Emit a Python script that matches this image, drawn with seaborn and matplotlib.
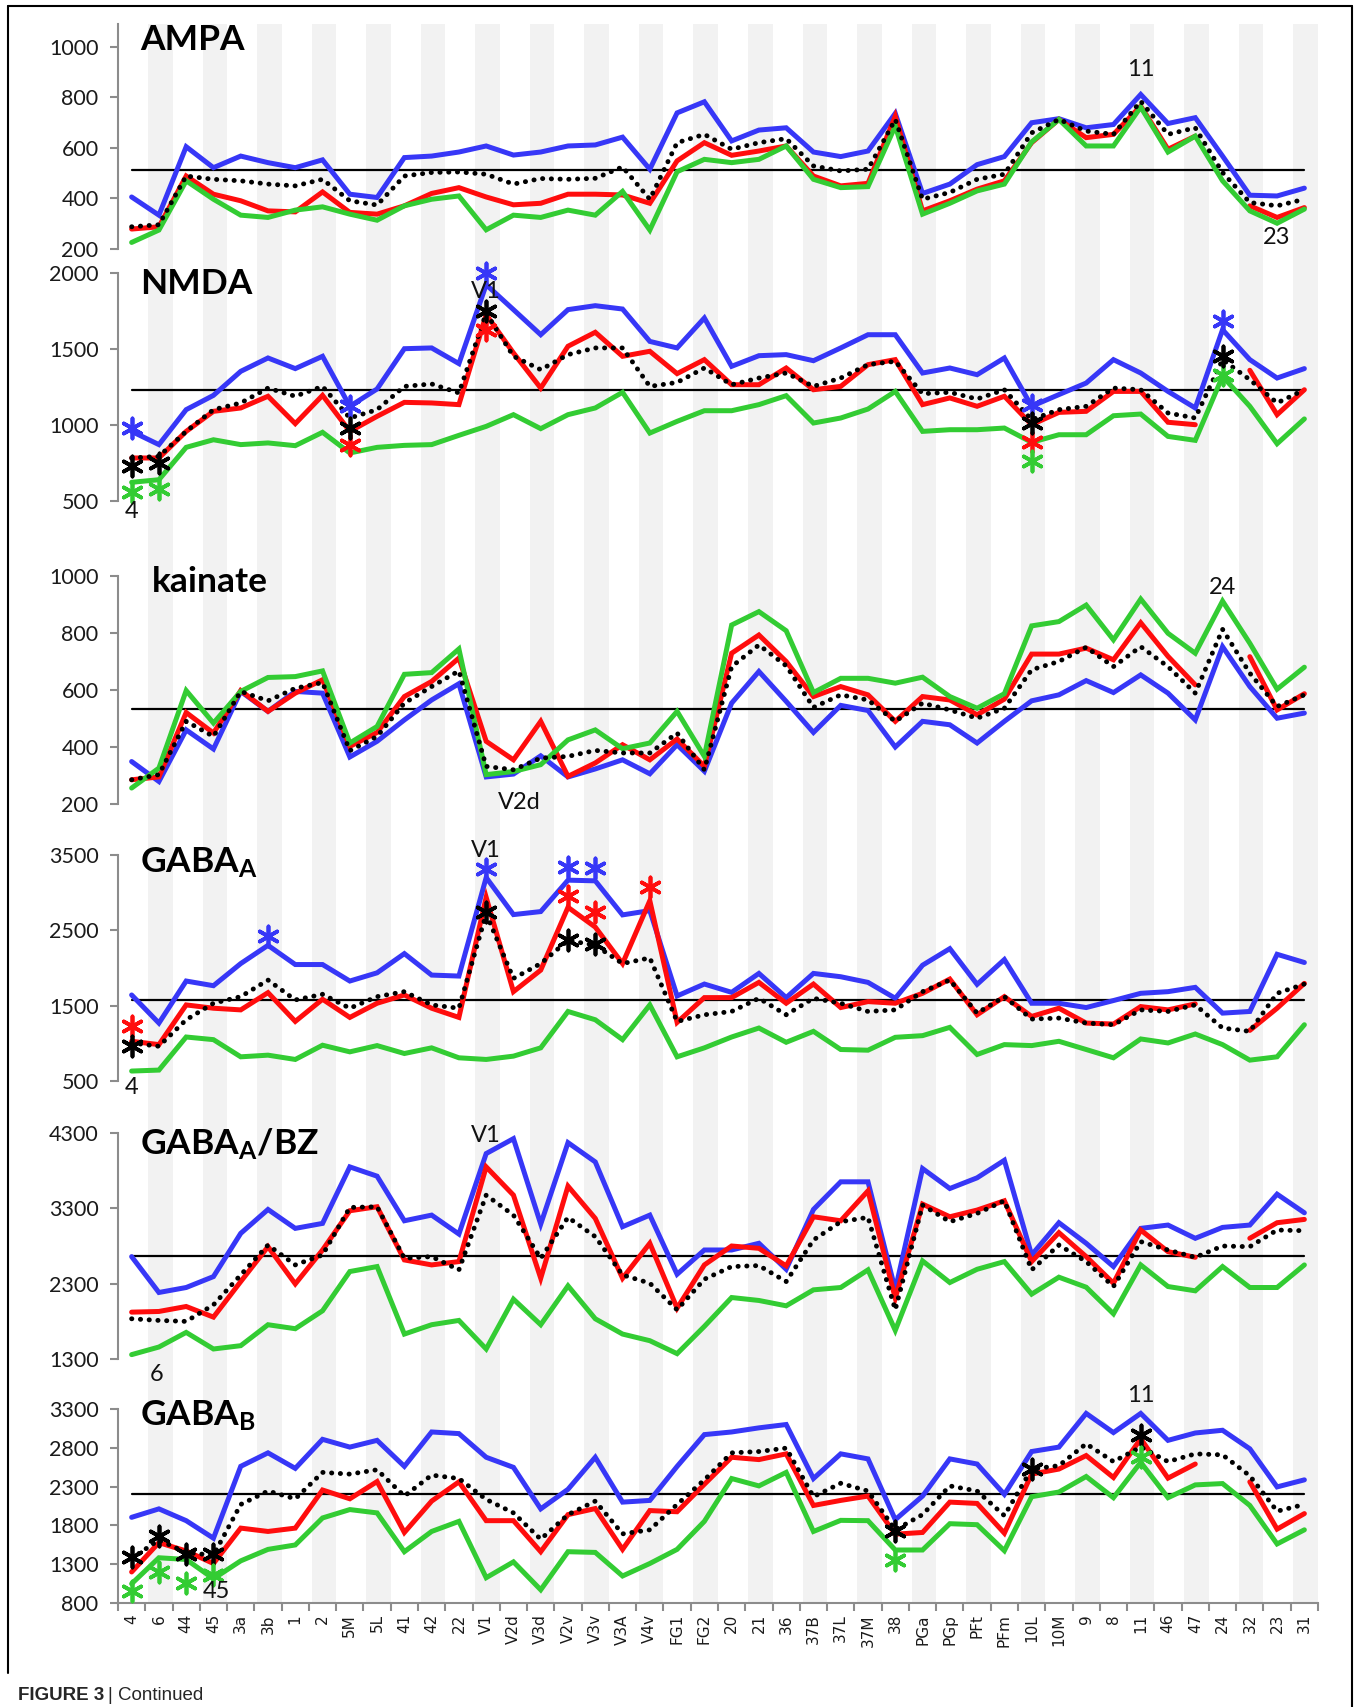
import numpy as np
import pandas as pd
import matplotlib
matplotlib.use("Agg")
import matplotlib.pyplot as plt
from matplotlib.lines import Line2D
import seaborn as sns

nan = np.nan

# --- DATA ---
areas = ["4", "6", "44", "45", "3a", "3b", "1", "2", "5M", "5L", "41", "42", "22",
         "V1", "V2d", "V3d", "V2v", "V3v", "V3A", "V4v", "FG1", "FG2", "20", "21",
         "36", "37B", "37L", "37M", "38", "PGa", "PGp", "PFt", "PFm", "10L", "10M",
         "9", "8", "11", "46", "47", "24", "32", "23", "31"]

ampa_blue = [406, 334, 605, 522, 568, 542, 522, 553, 417, 404, 562, 568, 584, 608, 572, 584, 608, 612, 643, 516, 739, 783,
             628, 671, 680, 584, 566, 588, 737, 420, 457, 534, 566, 700, 716, 680, 693, 812, 697, 720, 568, 413, 410, 441]
ampa_red = [279, 288, 489, 417, 391, 351, 347, 426, 345, 338, 371, 420, 443, 406, 375, 381, 417, 417, 414, 381, 549, 621,
            571, 588, 608, 489, 450, 460, 726, 351, 391, 437, 470, 621, 713, 641, 654, 766, 595, 647, nan, 371, 325, 364]
ampa_green = [226, 275, 470, 397, 334, 325, 354, 367, 338, 314, 371, 397, 410, 276, 334, 325, 354, 334, 428, 275, 506, 555,
              542, 555, 608, 476, 443, 447, 687, 338, 381, 430, 457, 624, 713, 608, 608, 762, 584, 647, 470, 351, 302, 358]
ampa_mean = [288, 296, 489, 476, 470, 457, 450, 476, 391, 374, 489, 503, 505, 496, 457, 479, 476, 480, 525, 397, 621, 654,
             595, 621, 637, 529, 509, 516, 713, 397, 424, 476, 496, 660, 713, 667, 654, 785, 654, 680, 503, 384, 371, 397]
ampa_level = 514

nmda_blue = [958, 871, 1101, 1195, 1353, 1441, 1371, 1452, 1123, 1237, 1502, 1507, 1404, 1923, 1759, 1594, 1759, 1785,
             1763, 1550, 1507, 1704, 1386, 1456, 1463, 1423, 1507, 1594, 1594, 1342, 1375, 1331, 1441, 1123, 1200, 1276,
             1430, 1342, 1221, 1112, 1627, 1430, 1309, 1371]
nmda_red = [783, 783, 958, 1090, 1112, 1189, 1009, 1195, 958, 1057, 1149, 1145, 1134, 1726, 1474, 1243, 1518, 1610, 1452,
            1485, 1338, 1430, 1265, 1265, 1375, 1232, 1254, 1397, 1430, 1134, 1178, 1123, 1189, 1002, 1083, 1090, 1221,
            1221, 1018, 1002, nan, 1360, 1068, 1232]
nmda_green = [623, 640, 853, 903, 871, 882, 864, 952, 816, 853, 866, 871, 932, 991, 1068, 976, 1068, 1112, 1215, 947, 1024,
              1094, 1094, 1134, 1193, 1013, 1046, 1105, 1221, 958, 969, 969, 980, 886, 936, 936, 1061, 1072, 925, 899, 1320,
              1123, 877, 1040]
nmda_mean = [783, 794, 958, 1101, 1145, 1243, 1189, 1254, 1046, 1101, 1254, 1270, 1211, 1737, 1452, 1364, 1463, 1507, 1507,
             1254, 1280, 1375, 1265, 1309, 1342, 1254, 1309, 1397, 1419, 1206, 1215, 1171, 1232, 1035, 1101, 1123, 1243,
             1232, 1079, 1046, 1430, 1298, 1145, 1232]
nmda_level = 1232

kain_blue = [349, 279, 460, 393, 595, 525, 595, 589, 365, 420, 495, 565, 622, 295, 305, 369, 295, 323, 355, 306, 408, 315,
             554, 665, 560, 451, 546, 528, 400, 490, 478, 414, 490, 562, 583, 633, 591, 653, 589, 495, 752, 612, 501, 519]
kain_red = [285, 295, 521, 449, 598, 525, 589, 636, 402, 451, 577, 630, 712, 420, 355, 490, 297, 344, 408, 355, 428, 332,
            729, 793, 700, 577, 612, 583, 490, 577, 565, 513, 568, 726, 726, 747, 706, 836, 718, 618, nan, 717, 530, 587]
kain_green = [256, 326, 598, 484, 595, 644, 647, 667, 414, 472, 655, 661, 744, 303, 314, 338, 425, 460, 394, 414, 525, 367,
              828, 875, 808, 591, 641, 641, 624, 645, 577, 536, 587, 825, 840, 898, 776, 919, 799, 729, 912, 764, 603, 680]
kain_mean = [285, 303, 490, 437, 595, 562, 606, 626, 387, 437, 554, 612, 667, 332, 320, 361, 367, 388, 379, 379, 449, 320,
             682, 758, 685, 539, 583, 565, 490, 554, 530, 501, 536, 671, 700, 750, 682, 752, 682, 589, 813, 659, 542, 583]
kain_level = 533

gabaa_blue = [1642, 1269, 1827, 1765, 2059, 2301, 2046, 2046, 1827, 1936, 2191, 1906, 1893, 3201, 2709, 2749, 3166, 3157,
              2705, 2762, 1629, 1787, 1677, 1928, 1607, 1928, 1884, 1809, 1598, 2037, 2257, 1783, 2112, 1532, 1532, 1475,
              1568, 1664, 1686, 1743, 1401, 1423, 2182, 2073]
gabaa_red = [1027, 983, 1510, 1466, 1444, 1673, 1291, 1585, 1344, 1532, 1642, 1466, 1344, 2938, 1686, 1972, 2806, 2543,
             2059, 2894, 1278, 1607, 1607, 1809, 1532, 1787, 1475, 1554, 1532, 1664, 1853, 1379, 1620, 1357, 1466, 1269,
             1256, 1488, 1444, 1524, nan, 1172, 1466, 1796]
gabaa_green = [632, 645, 1084, 1049, 821, 843, 786, 975, 887, 970, 865, 940, 808, 786, 830, 940, 1423, 1313, 1049, 1510,
               821, 940, 1084, 1203, 1014, 1159, 918, 909, 1080, 1102, 1212, 852, 983, 970, 1027, 918, 808, 1058, 1005,
               1124, 983, 777, 821, 1247]
gabaa_mean = [1005, 961, 1313, 1532, 1620, 1840, 1576, 1651, 1466, 1620, 1686, 1510, 1466, 2718, 1862, 2059, 2367, 2301,
              2059, 2134, 1290, 1379, 1423, 1598, 1379, 1598, 1532, 1423, 1444, 1686, 1840, 1401, 1620, 1322, 1335, 1269,
              1247, 1444, 1423, 1510, 1203, 1159, 1664, 1787]
gabaa_level = 1576

bz_blue = [2659, 2183, 2249, 2394, 2968, 3285, 3034, 3100, 3850, 3727, 3135, 3210, 2959, 4027, 4225, 3091, 4172, 3916,
           3056, 3210, 2425, 2747, 2747, 2836, 2491, 3285, 3652, 3652, 2218, 3828, 3563, 3705, 3938, 2681, 3109, 2836,
           2527, 3034, 3078, 2902, 3047, 3078, 3488, 3241]
bz_red = [1922, 1931, 1997, 1856, 2328, 2791, 2297, 2747, 3268, 3321, 2615, 2549, 2593, 3850, 3475, 2372, 3594, 3166,
          2372, 2836, 1975, 2549, 2800, 2769, 2536, 3188, 3135, 3532, 2108, 3356, 3188, 3277, 3400, 2593, 2977, 2659,
          2306, 3012, 2725, 2650, nan, 2902, 3109, 3153]
bz_green = [1358, 1459, 1653, 1433, 1477, 1755, 1702, 1940, 2461, 2527, 1631, 1755, 1812, 1433, 2094, 1755, 2271, 1834,
            1631, 1543, 1371, 1733, 2116, 2077, 2006, 2218, 2249, 2483, 1680, 2602, 2315, 2491, 2593, 2161, 2386, 2253,
            1900, 2549, 2262, 2205, 2527, 2249, 2249, 2549]
bz_mean = [1834, 1812, 1799, 2019, 2416, 2813, 2549, 2681, 3312, 3321, 2637, 2659, 2483, 3475, 3210, 2637, 3180, 2924,
           2416, 2306, 1953, 2359, 2527, 2540, 2328, 2880, 3122, 3180, 1953, 3343, 3122, 3232, 3400, 2483, 2813, 2593,
           2262, 2858, 2747, 2650, 2800, 2791, 3012, 3003]
bz_level = 2672

gabab_blue = [1904, 2013, 1861, 1635, 2561, 2735, 2535, 2909, 2809, 2896, 2561, 3004, 2983, 2678, 2548, 2013, 2265, 2678,
              2100, 2122, 2560, 2970, 3004, 3057, 3100, 2404, 2722, 2657, 1874, 2178, 2657, 2591, 2200, 2752, 2809, 3243,
              2996, 3243, 2896, 2991, 3026, 2787, 2296, 2387]
gabab_red = [1200, 1578, 1470, 1309, 1765, 1722, 1765, 2256, 2143, 2365, 1709, 2113, 2361, 1861, 1861, 1461, 1939, 2017,
             1491, 1991, 1976, 2330, 2678, 2648, 2722, 2057, 2122, 2178, 1687, 1709, 2100, 2083, 1700, 2461, 2526, 2700,
             2417, 2917, 2409, 2591, nan, 2361, 1752, 1952]
gabab_green = [1048, 1383, 1361, 1113, 1343, 1491, 1548, 1896, 2004, 1961, 1461, 1722, 1852, 1126, 1330, 970, 1461, 1452,
               1148, 1309, 1491, 1852, 2404, 2309, 2483, 1722, 1865, 1861, 1483, 1483, 1822, 1809, 1474, 2170, 2230,
               2430, 2157, 2613, 2157, 2322, 2339, 2057, 1561, 1743]
gabab_mean = [1374, 1613, 1448, 1417, 2070, 2243, 2143, 2483, 2461, 2517, 2178, 2448, 2404, 2135, 1961, 1622, 1939, 2113,
              1691, 1743, 2070, 2387, 2735, 2752, 2796, 2170, 2343, 2243, 1743, 1939, 2309, 2243, 1926, 2526, 2570, 2852,
              2622, 2809, 2622, 2722, 2709, 2439, 1983, 2070]
gabab_level = 2200

# significance asterisks: colour -> (areas, values)
ampa_stars = {}
nmda_stars = {
    "blue": (["4", "5M", "V1", "10L", "24"], [980, 1123, 2000, 1134, 1682]),
    "red": (["5M", "V1", "10L"], [871, 1627, 886]),
    "green": (["4", "6", "10L", "24"], [557, 579, 761, 1331]),
    "black": (["4", "6", "5M", "V1", "10L", "24"], [732, 750, 980, 1748, 1013, 1456]),
}
kain_stars = {}
gabaa_stars = {
    "blue": (["3b", "V1", "V2v", "V3v"], [2420, 3311, 3342, 3333]),
    "red": (["4", "V2v", "V3v", "V4v"], [1225, 2960, 2740, 3070]),
    "black": (["4", "V1", "V2v", "V3v"], [970, 2740, 2367, 2323]),
}
bz_stars = {}
gabab_stars = {
    "black": (["4", "6", "44", "45", "38", "10L", "11"], [1396, 1657, 1430, 1430, 1722, 2526, 2961]),
    "green": (["4", "6", "44", "45", "38", "11"], [961, 1200, 1056, 1156, 1352, 2678]),
}

# area labels written inside the panels: (text, x position in area units, y value)
ampa_notes = [("11", 37, 909), ("23", 42, 244)]
nmda_notes = [("V1", 13, 1875), ("4", 0, 428)]
kain_notes = [("V2d", 14.2, 207), ("24", 40, 958)]
gabaa_notes = [("V1", 13, 3566), ("4", 0, 420)]
bz_notes = [("V1", 13, 4273), ("6", 0.9, 1088)]
gabab_notes = [("45", 3.1, 942), ("11", 37, 3480)]

# --- STYLE / LAYOUT ---
W, H = 1358, 1707
LEFT, RIGHT = 118, 1318
COLORS = {"blue": "#3737f7", "red": "#ff0d0d", "green": "#33cc33", "black": "black"}
GRAY = "#8c8c8c"
LW = 3.6

sns.set_theme(style="white")
plt.rcParams["font.family"] = ["Lato", "DejaVu Sans"]
plt.rcParams["mathtext.fontset"] = "custom"
plt.rcParams["mathtext.rm"] = "Lato"
plt.rcParams["mathtext.bf"] = "Lato:bold"

# title, pixel top/bottom, ylim, yticks, series..., title baseline (px), title x (px)
panels = [
    ("AMPA", 24, 249, (200, 1091), [200, 400, 600, 800, 1000],
     ampa_blue, ampa_red, ampa_green, ampa_mean, ampa_level, ampa_stars, ampa_notes, 50, 140),
    ("NMDA", 273, 501, (500, 2000), [500, 1000, 1500, 2000],
     nmda_blue, nmda_red, nmda_green, nmda_mean, nmda_level, nmda_stars, nmda_notes, 294, 140),
    ("kainate", 576, 804, (200, 1000), [200, 400, 600, 800, 1000],
     kain_blue, kain_red, kain_green, kain_mean, kain_level, kain_stars, kain_notes, 592, 152),
    (r"$\mathbf{GABA_A}$", 855, 1081, (500, 3500), [500, 1500, 2500, 3500],
     gabaa_blue, gabaa_red, gabaa_green, gabaa_mean, gabaa_level, gabaa_stars, gabaa_notes, 873, 140),
    (r"$\mathbf{GABA_A/BZ}$", 1133, 1359, (1300, 4300), [1300, 2300, 3300, 4300],
     bz_blue, bz_red, bz_green, bz_mean, bz_level, bz_stars, bz_notes, 1155, 140),
    (r"$\mathbf{GABA_B}$", 1409, 1603, (800, 3300), [800, 1300, 1800, 2300, 2800, 3300],
     gabab_blue, gabab_red, gabab_green, gabab_mean, gabab_level, gabab_stars, gabab_notes, 1426, 140),
]


def rect(top, bottom):
    return [LEFT / W, 1 - bottom / H, (RIGHT - LEFT) / W, (bottom - top) / H]


def draw_series(ax, values, color, z, dotted=False):
    df = pd.DataFrame({"x": np.arange(len(values)), "y": values})
    df["seg"] = df["y"].isna().cumsum()
    df = df.dropna()
    if dotted:
        kw = dict(linestyle=(0, (0.05, 1.75)), dash_capstyle="round", linewidth=3.5)
    else:
        kw = dict(solid_joinstyle="miter", linewidth=LW)
    sns.lineplot(data=df, x="x", y="y", units="seg", estimator=None, sort=False,
                 color=color, zorder=z, ax=ax, **kw)


fig = plt.figure(figsize=(W / 100, H / 100), dpi=100)

# alternating gray columns behind all panels
bg = fig.add_axes(rect(24, 1603))
bg.set_xlim(-0.5, len(areas) - 0.5)
bg.set_ylim(0, 1)
for i in range(1, len(areas), 2):
    bg.axvspan(i - 0.4, i + 0.5, color="#f2f2f2", lw=0)
bg.axis("off")

idx = {a: i for i, a in enumerate(areas)}
x = np.arange(len(areas))

for n, (title, top, bottom, ylim, yticks, blue, red, green, mean, level, stars, notes, tb, tx) in enumerate(panels):
    ax = fig.add_axes(rect(top, bottom))
    ax.patch.set_alpha(0)
    ax.plot([0, len(areas) - 1], [level, level], color="black", lw=1.6, zorder=1.5)
    draw_series(ax, blue, COLORS["blue"], 2)
    draw_series(ax, red, COLORS["red"], 3)
    draw_series(ax, green, COLORS["green"], 4)
    draw_series(ax, mean, "black", 5, dotted=True)

    for cname, (labs, vals) in stars.items():
        sns.scatterplot(x=[idx[a] for a in labs], y=vals, marker=(6, 2, 0), s=210,
                        color=COLORS[cname], linewidth=2.7, zorder=7, clip_on=False, ax=ax)

    for txt, xp, yv in notes:
        ax.text(xp, yv, txt, ha="center", va="center", fontsize=17, color="#111111",
                clip_on=False, zorder=8)

    ax.set_xlim(-0.5, len(areas) - 0.5)
    ax.set_ylim(*ylim)
    ax.set_yticks(yticks)
    ax.set_yticklabels([str(t) for t in yticks])
    ax.set_xlabel("")
    ax.set_ylabel("")
    ax.tick_params(axis="y", length=6, width=1.5, color=GRAY, pad=8, labelsize=15.5,
                   labelcolor="#1a1a1a", left=True)
    for s in ["top", "right"]:
        ax.spines[s].set_visible(False)
    ax.spines["left"].set_color(GRAY)
    ax.spines["left"].set_linewidth(1.5)

    if n == len(panels) - 1:
        ax.spines["bottom"].set_color(GRAY)
        ax.spines["bottom"].set_linewidth(1.5)
        ax.set_xticks(x)
        ax.set_xticklabels(areas, rotation=90, family="DejaVu Sans", fontsize=11)
        ax.set_xticks(np.arange(-0.5, len(areas), 1), minor=True)
        ax.tick_params(axis="x", which="major", length=0, pad=8, labelcolor="#1a1a1a", bottom=True)
        ax.tick_params(axis="x", which="minor", length=6, width=1.5, color=GRAY, bottom=True)
    else:
        ax.spines["bottom"].set_visible(False)
        ax.set_xticks([])

    fig.text(tx / W, 1 - tb / H, title, fontsize=25.5, fontweight="bold", va="baseline",
             ha="left", color="black")

# outer frame and caption
fig.add_artist(Line2D([8 / W, 8 / W], [1 - 6 / H, 1 - 1673 / H], color="black", lw=1.5))
fig.add_artist(Line2D([8 / W, 1352 / W], [1 - 6 / H, 1 - 6 / H], color="black", lw=1.5))
fig.add_artist(Line2D([1352 / W, 1352 / W], [1 - 6 / H, 0], color="black", lw=1.5))

cap = fig.text(18 / W, 1 - 1695 / H, "FIGURE 3", fontsize=13.5, fontweight="bold",
               family="Liberation Sans", va="center", ha="left")
fig.canvas.draw()
bb = cap.get_window_extent()
fig.text((bb.x1 + 4) / W, 1 - 1695 / H, "| Continued", fontsize=13.5,
         family="Liberation Sans", va="center", ha="left")

fig.savefig("out.png", dpi=100)
